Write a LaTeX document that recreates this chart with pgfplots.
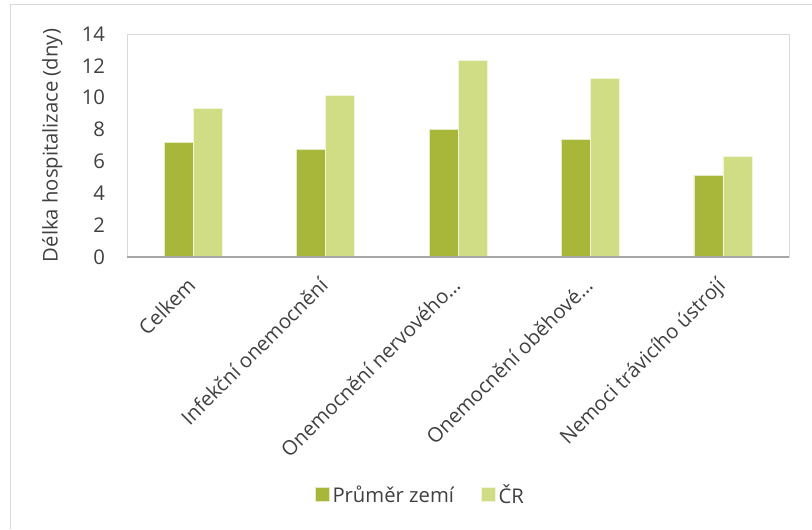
\documentclass[border=0pt]{standalone}
\usepackage{fontspec}
\setmainfont{Open Sans}
\usepackage{pgfplots}
\pgfplotsset{compat=1.18}
\definecolor{darkg}{HTML}{A8B63A}
\definecolor{lightg}{HTML}{D0DD84}
\definecolor{txt}{HTML}{404040}
\definecolor{frame}{HTML}{D9D9D9}
\newcommand{\tfont}{\fontsize{15.2}{18}\selectfont}
\begin{document}
\begin{tikzpicture}
\useasboundingbox (0,0) rectangle (609pt,396.75pt);
\draw[frame, line width=0.75pt] (7.5pt,0) -- (7.5pt,393pt) -- (609pt,393pt);
\begin{axis}[
  at={(95.25pt,204pt)}, anchor=south west,
  scale only axis, width=496.5pt, height=167.25pt,
  ybar=0pt, bar width=21.75pt,
  xmin=-0.5, xmax=4.5, ymin=0, ymax=14,
  ytick={0,2,...,14},
  xtick={0,1,2,3,4},
  xticklabels={Celkem, Infekční onemocnění, Onemocnění nervového\ldots, Onemocnění oběhové\ldots, Nemoci trávicího ústrojí},
  xticklabel style={xshift=-5.5pt, yshift=-14pt, rotate=45, anchor=north east, font=\tfont, text=txt, inner sep=0pt},
  yticklabel style={font=\tfont, text=txt, xshift=-13pt},
  /pgf/number format/assume math mode=true,
  major tick length=0pt,
  axis line style={frame, line width=0.75pt},
  ylabel={Délka hospitalizace (dny)},
  ylabel style={at={(axis description cs:-0.113,0.5)}, anchor=center, rotate=0, font=\tfont, text=txt},
  legend style={at={(0.444,-1.067)}, anchor=center, draw=none, legend columns=2, font=\tfont, text=txt, /tikz/every even column/.append style={column sep=18.5pt}},
  legend image code/.code={\fill[#1] (0pt,-5pt) rectangle (10.5pt,5.5pt);},
]
\addplot[fill=darkg, draw=white!70!darkg, line width=0.4pt] coordinates {(0,7.2) (1,6.75) (2,8.0) (3,7.4) (4,5.13)};
\addplot[fill=lightg, draw=white!70!lightg, line width=0.4pt] coordinates {(0,9.33) (1,10.15) (2,12.34) (3,11.22) (4,6.33)};
\legend{Průměr zemí, ČR}
\draw[gray!70, line width=1pt] (rel axis cs:0,0) -- (rel axis cs:1,0);
\end{axis}
\end{tikzpicture}
\end{document}
